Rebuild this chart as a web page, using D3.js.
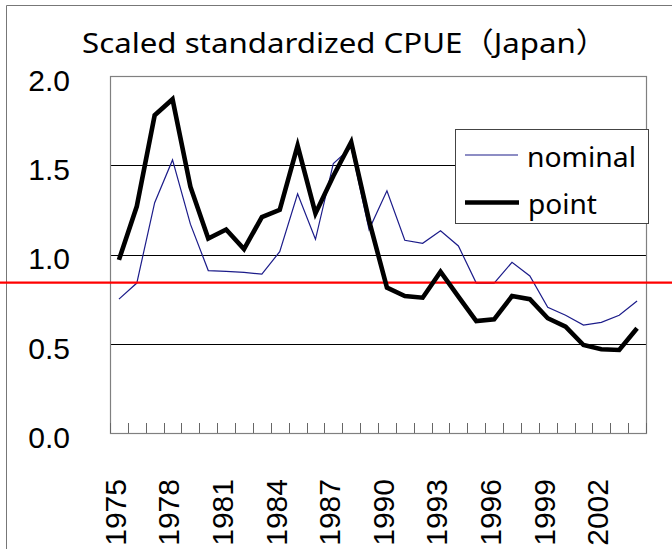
<!DOCTYPE html>
<html>
<head>
<meta charset="utf-8">
<script src="https://cdn.jsdelivr.net/npm/d3@7"></script>
<style>
  body { margin: 0; background: #fff; }
  svg { display: block; }
</style>
</head>
<body>
<div id="chart"></div>
<script>
// data
var years = [1975, 1976, 1977, 1978, 1979, 1980, 1981, 1982, 1983, 1984,
             1985, 1986, 1987, 1988, 1989, 1990, 1991, 1992, 1993, 1994,
             1995, 1996, 1997, 1998, 1999, 2000, 2001, 2002, 2003, 2004];
var nominal = [0.75, 0.84, 1.29, 1.53, 1.17, 0.91, 0.905, 0.90, 0.89, 1.016,
               1.34, 1.085, 1.51, 1.60, 1.14, 1.357, 1.08, 1.063, 1.133, 1.048,
               0.84, 0.84, 0.956, 0.88, 0.704, 0.66, 0.605, 0.62, 0.66, 0.74];
var point = [0.97, 1.27, 1.78, 1.87, 1.38, 1.09, 1.14, 1.03, 1.21, 1.25,
             1.61, 1.23, 1.44, 1.63, 1.19, 0.814, 0.767, 0.758, 0.904, 0.764,
             0.627, 0.637, 0.767, 0.75, 0.643, 0.596, 0.493, 0.469, 0.465, 0.587];
var yearLabels = [1975, 1978, 1981, 1984, 1987, 1990, 1993, 1996, 1999, 2002];
var yTicks = [0, 0.5, 1.0, 1.5, 2.0];
var refValue = 0.842;

// set the dimensions of the plot area
var width = 672, height = 549;
var plot = {left: 110, right: 646, top: 76, bottom: 433};

var x = d3.scaleBand().domain(years).range([plot.left, plot.right]).padding(0);
var y = d3.scaleLinear().domain([0, 2]).range([plot.bottom, plot.top]);

var svg = d3.select("#chart").append("svg")
    .attr("width", width)
    .attr("height", height);

svg.append("rect").attr("width", width).attr("height", height).attr("fill", "#fff");

// outer frame
svg.append("path")
    .attr("d", "M6.5," + height + "V5.5H" + width)
    .attr("fill", "none")
    .attr("stroke", "#777")
    .attr("stroke-width", 1);

// title
svg.append("text")
    .attr("x", 82)
    .attr("y", 53)
    .attr("textLength", 525)
    .attr("lengthAdjust", "spacingAndGlyphs")
    .style("font-family", "'Noto Sans', 'Noto Sans CJK JP', sans-serif")
    .style("font-size", "28px")
    .attr("fill", "#000")
    .text("Scaled standardized CPUE\uFF08Japan\uFF09");

// gridlines
svg.append("g").selectAll("line")
    .data([0.5, 1.0, 1.5])
    .enter().append("line")
      .attr("x1", plot.left).attr("x2", plot.right)
      .attr("y1", function(d) { return Math.round(y(d)) + 0.5; })
      .attr("y2", function(d) { return Math.round(y(d)) + 0.5; })
      .attr("stroke", "#000")
      .attr("stroke-width", 1);

// plot border
svg.append("rect")
    .attr("x", plot.left + 0.5)
    .attr("y", plot.top + 0.5)
    .attr("width", plot.right - plot.left)
    .attr("height", plot.bottom - plot.top)
    .attr("fill", "none")
    .attr("stroke", "#808080")
    .attr("stroke-width", 1.2);

// x tick marks at category boundaries, pointing inward
var tickX = years.map(function(d) { return x(d); }).concat([plot.right]);
svg.append("g").selectAll("line")
    .data(tickX)
    .enter().append("line")
      .attr("x1", function(d) { return Math.round(d) + 0.5; })
      .attr("x2", function(d) { return Math.round(d) + 0.5; })
      .attr("y1", plot.bottom)
      .attr("y2", plot.bottom - 10)
      .attr("stroke", "#666")
      .attr("stroke-width", 1);

// y axis labels
var yAxis = svg.append("g")
    .attr("transform", "translate(" + (plot.left - 40) + ",0)")
    .call(d3.axisLeft(y).tickValues(yTicks).tickSize(0).tickPadding(0).tickFormat(d3.format(".1f")));
yAxis.select(".domain").remove();
yAxis.selectAll("text")
    .attr("dy", "0.48em")
    .attr("fill", "#000")
    .style("font-family", "'Liberation Sans', Arial, sans-serif")
    .style("font-size", "30px");

// x axis labels, rotated
svg.append("g").selectAll("text")
    .data(yearLabels)
    .enter().append("text")
      .attr("transform", function(d) {
        return "translate(" + (x(d) + x.bandwidth() / 2 - 4) + ",479) rotate(-90)";
      })
      .attr("text-anchor", "end")
      .attr("dy", "0.36em")
      .attr("fill", "#000")
      .style("font-family", "'Liberation Sans', Arial, sans-serif")
      .style("font-size", "30px")
      .text(function(d) { return d; });

// define the lines
var line = d3.line()
    .x(function(d, i) { return x(years[i]) + x.bandwidth() / 2; })
    .y(function(d) { return y(d); });

svg.append("path")
    .datum(nominal)
    .attr("fill", "none")
    .attr("stroke", "#1c1c8a")
    .attr("stroke-width", 1.2)
    .attr("d", line);

// red reference line
svg.append("line")
    .attr("x1", 0).attr("x2", width)
    .attr("y1", y(refValue)).attr("y2", y(refValue))
    .attr("stroke", "#ff0000")
    .attr("stroke-width", 2.2);

svg.append("path")
    .datum(point)
    .attr("fill", "none")
    .attr("stroke", "#000")
    .attr("stroke-width", 4.6)
    .attr("d", line);

// legend
var legend = svg.append("g");
legend.append("rect")
    .attr("x", 455.5).attr("y", 129.5)
    .attr("width", 193).attr("height", 94)
    .attr("fill", "#fff")
    .attr("stroke", "#444")
    .attr("stroke-width", 1);
legend.append("line")
    .attr("x1", 465).attr("x2", 518).attr("y1", 155).attr("y2", 155)
    .attr("stroke", "#1c1c8a").attr("stroke-width", 1.2);
legend.append("line")
    .attr("x1", 465).attr("x2", 519).attr("y1", 202.5).attr("y2", 202.5)
    .attr("stroke", "#000").attr("stroke-width", 4.6);
legend.append("text")
    .attr("x", 527).attr("y", 166.5)
    .attr("textLength", 109)
    .attr("lengthAdjust", "spacingAndGlyphs")
    .style("font-family", "'Noto Sans', sans-serif")
    .style("font-size", "28px")
    .text("nominal");
legend.append("text")
    .attr("x", 528).attr("y", 213.5)
    .attr("textLength", 69)
    .attr("lengthAdjust", "spacingAndGlyphs")
    .style("font-family", "'Noto Sans', sans-serif")
    .style("font-size", "28px")
    .text("point");
</script>
</body>
</html>
